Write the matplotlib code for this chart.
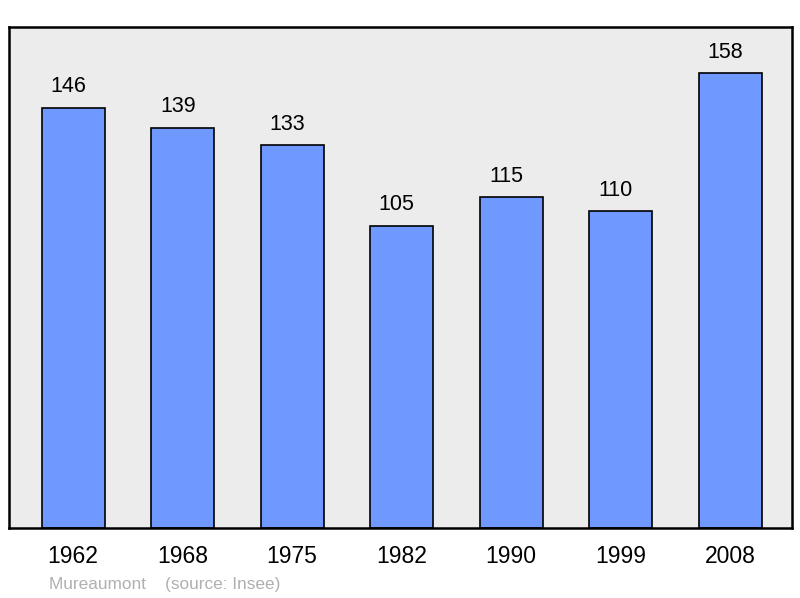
import matplotlib.pyplot as plt

plt.rcParams['font.family'] = ['Liberation Sans', 'DejaVu Sans']

years = ['1962', '1968', '1975', '1982', '1990', '1999', '2008']
population = [146, 139, 133, 105, 115, 110, 158]

fig = plt.figure(figsize=(8, 5.98), dpi=100)
ax = fig.add_axes([0.01125, 0.117, 0.97875, 0.8378])
ax.set_facecolor('#ececec')

x = range(len(years))
bars = ax.bar(x, population, width=0.575, color='#7099ff', edgecolor='black', linewidth=1.2)

for xi, val in zip(x, population):
    ax.annotate(str(val), (xi, val), xytext=(-3.5, 15), textcoords='offset points',
                ha='center', va='center', fontsize=15.5)

ax.set_xlim(-0.585, 6.565)
ax.set_ylim(0, 174)
ax.set_xticks(list(x))
ax.set_xticklabels(years, fontsize=16.5)
ax.tick_params(axis='x', length=0, pad=12.5)
ax.set_yticks([])
for s in ax.spines.values():
    s.set_linewidth(1.8)

fig.text(49 / 800, 1 - 584 / 598, 'Mureaumont    (source: Insee)', color='#b0b0b0',
         fontsize=12.4, va='center', ha='left')

fig.savefig('out.png', dpi=100)
